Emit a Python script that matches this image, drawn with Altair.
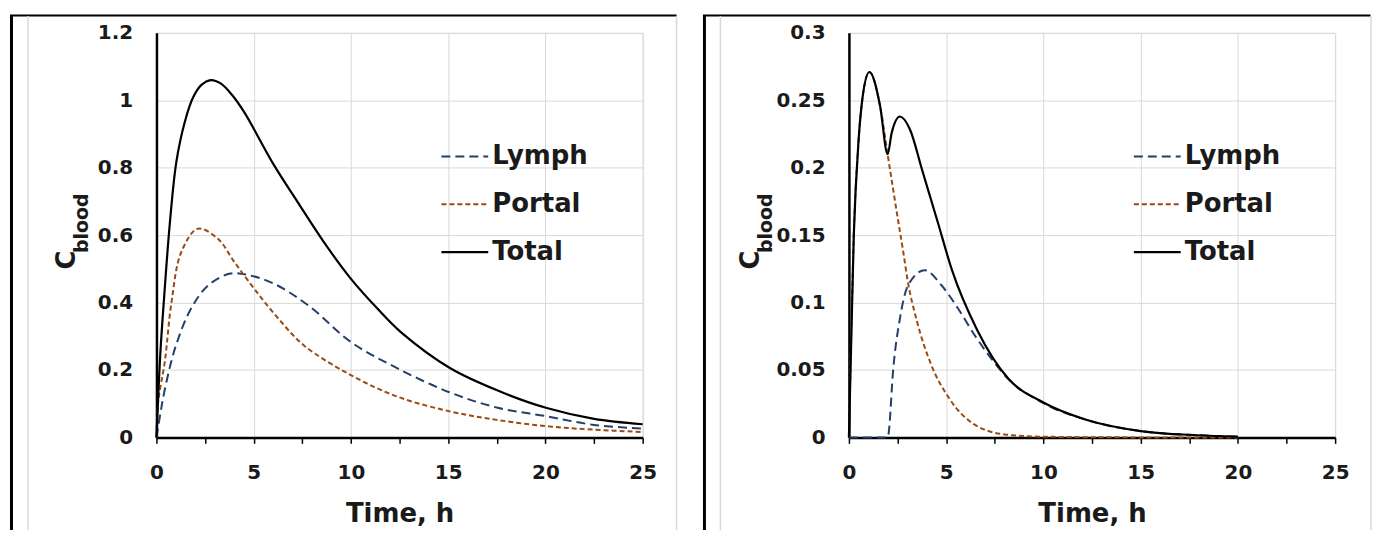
import altair as alt
import pandas as pd

FONT = "DejaVu Sans"
TEXT_COLOR = "#1a1a1a"
GRID = "#d9d9d9"

SERIES = ["Lymph", "Portal", "Total"]
COLORS = ["#233f6b", "#9a4a12", "#000000"]
DASHES = [[9, 5], [5, 3], None]
WIDTHS = [2, 2, 2.2]

X_TICKS = [0, 2.5, 5, 7.5, 10, 12.5, 15, 17.5, 20, 22.5, 25]
Y_TICKS_A = [0, 0.2, 0.4, 0.6, 0.8, 1.0, 1.2]
Y_TICKS_B = [0, 0.05, 0.1, 0.15, 0.2, 0.25, 0.3]

# ---- Panel A (left) ----
a_lymph_t = [0, 0.2, 0.4, 0.97, 1.76, 2.66, 3.8, 4.69, 6.04, 7.84, 10.0, 12.35, 15.06, 17.54, 20.02, 22.5, 25]
a_lymph_v = [0, 0.07, 0.134, 0.267, 0.38, 0.451, 0.486, 0.482, 0.456, 0.39, 0.283, 0.206, 0.134, 0.088, 0.063, 0.037, 0.026]
a_portal_t = [0, 0.09, 0.43, 0.77, 1.28, 2.13, 3.16, 4.01, 5.04, 6.23, 7.6, 9.99, 12.38, 15.1, 17.5, 20.07, 22.45, 25]
a_portal_v = [0, 0.106, 0.225, 0.40, 0.55, 0.619, 0.589, 0.52, 0.44, 0.355, 0.272, 0.185, 0.121, 0.077, 0.052, 0.033, 0.023, 0.016]
a_total_t = [0, 0.2, 0.4, 0.68, 1.02, 1.45, 1.88, 2.3, 2.8, 3.3, 3.9, 4.52, 6.06, 7.26, 8.6, 9.99, 11.36, 12.55, 15.11, 17.67, 20.07, 22.5, 25]
a_total_v = [0, 0.25, 0.42, 0.63, 0.816, 0.934, 1.008, 1.045, 1.06, 1.05, 1.015, 0.964, 0.806, 0.698, 0.58, 0.471, 0.382, 0.313, 0.205, 0.136, 0.087, 0.055, 0.039]

# ---- Panel B (right) ----
b_lymph_t = [0, 1.99, 2.03, 2.28, 2.62, 3.05, 3.9, 4.75, 5.61, 6.46, 7.31, 8.16, 10, 12.2, 15, 17.9, 20]
b_lymph_v = [0, 0, 0.002, 0.051, 0.088, 0.113, 0.124, 0.113, 0.0956, 0.0759, 0.0586, 0.0438, 0.0254, 0.013, 0.0047, 0.0016, 0.0005]
b_portal_t = [0, 0.25, 0.5, 0.7, 1.05, 1.6, 1.99, 2.55, 2.8, 3.0, 3.5, 4.2, 5.2, 6.4, 8.1, 10, 15, 20]
b_portal_v = [0, 0.15, 0.221, 0.252, 0.271, 0.246, 0.21, 0.159, 0.137, 0.118, 0.086, 0.055, 0.028, 0.010, 0.002, 0.0005, 0, 0]
b_total_t = [0, 0.25, 0.5, 0.7, 1.05, 1.6, 1.99, 2.2, 2.62, 3.15, 3.75, 4.58, 5.3, 6.6, 8.18, 10, 12.2, 15, 17.9, 20]
b_total_v = [0, 0.15, 0.221, 0.252, 0.271, 0.246, 0.21, 0.226, 0.238, 0.228, 0.199, 0.159, 0.124, 0.0795, 0.0438, 0.0259, 0.0131, 0.0047, 0.0016, 0.0005]

W, H = 488, 406
ONE = pd.DataFrame({"k": [0]})


def rule(x1, y1, x2, y2, color, width, dash=None):
    kw = dict(color=color, strokeWidth=width)
    if dash:
        kw["strokeDash"] = dash
    return alt.Chart(ONE).mark_rule(**kw).encode(
        x=alt.value(x1), x2=alt.value(x2), y=alt.value(y1), y2=alt.value(y2)
    )


def label(txt, x, y, size, angle=0, align="left"):
    return alt.Chart(ONE).mark_text(
        text=txt, font=FONT, fontSize=size, fontWeight="bold", color=TEXT_COLOR,
        align=align, baseline="middle", angle=angle,
    ).encode(x=alt.value(x), y=alt.value(y))


def panel(series, ymax, yticks, left_panel, interp, title_shift):
    x_axis = alt.Axis(
        values=X_TICKS, format="~g",
        labelExpr="datum.value % 5 == 0 ? datum.label : ''",
        gridOpacity={"condition": {"test": "datum.value % 5 === 0", "value": 1}, "value": 0},
        gridColor=GRID, gridWidth=1,
        domainColor="black", domainWidth=2.5,
        tickColor="black", tickWidth=1.5, tickSize=6,
        labelFont=FONT, labelFontSize=20, labelFontWeight="bold", labelColor=TEXT_COLOR,
        labelPadding=19, labelFlush=False,
        title="Time, h", titleFont=FONT, titleFontSize=26, titleFontWeight="bold",
        titleColor=TEXT_COLOR, titlePadding=18, zindex=0,
    )
    y_axis = alt.Axis(
        values=yticks, format="~g", ticks=False,
        gridColor=GRID, gridWidth=1,
        domainColor="black", domainWidth=2.5,
        labelFont=FONT, labelFontSize=20, labelFontWeight="bold", labelColor=TEXT_COLOR,
        labelPadding=24, title=None, zindex=0,
    )
    x = alt.X("t:Q", scale=alt.Scale(domain=[0, 25], nice=False), axis=x_axis)
    y = alt.Y("v:Q", scale=alt.Scale(domain=[0, ymax], nice=False), axis=y_axis)

    layers = []
    for (t, v), color, dash, w in zip(series, COLORS, DASHES, WIDTHS):
        kw = dict(interpolate=interp, color=color, strokeWidth=w)
        if dash:
            kw["strokeDash"] = dash
        layers.append(alt.Chart(pd.DataFrame({"t": t, "v": v})).mark_line(**kw).encode(x=x, y=y))

    # legend (inside plot)
    rows = [124, 172, 220]
    for name, color, dash, w, ry in zip(SERIES, COLORS, DASHES, WIDTHS, rows):
        layers.append(rule(286, ry, 333, ry, color, w, dash))
        layers.append(label(name, 337, ry, 26))

    # y title: C with subscript "blood"
    layers.append(label("C", -90 + title_shift, 228, 26, angle=270, align="center"))
    layers.append(label("blood", -75 + title_shift, 191, 19, angle=270, align="center"))

    # frame lines
    if left_panel:
        layers.append(rule(-145.5, -18, -145.5, 499, "black", 3))
        layers.append(rule(-147, -17.5, 522, -17.5, "black", 2))
        layers.append(rule(-129, -17, -129, 499, GRID, 1.5))
        layers.append(rule(522, -17, 522, 499, GRID, 1.5))
    else:
        layers.append(rule(-145, -18, -145, 499, "black", 3))
        layers.append(rule(-146.5, -17.5, 523.5, -17.5, "black", 2))
        layers.append(rule(-129, -17, -129, 499, GRID, 1.5))
        layers.append(rule(524, -17, 524, 499, GRID, 1.5))

    return alt.layer(*layers).properties(width=W, height=H)


left = panel([(a_lymph_t, a_lymph_v), (a_portal_t, a_portal_v), (a_total_t, a_total_v)],
             1.2, Y_TICKS_A, True, "catmull-rom", 0)
right = panel([(b_lymph_t, b_lymph_v), (b_portal_t, b_portal_v), (b_total_t, b_total_v)],
              0.3, Y_TICKS_B, False, "monotone", -8)

chart = alt.hconcat(left, right, spacing=23).properties(
    padding={"left": 0, "top": 4, "right": 0, "bottom": 0}
).configure_view(stroke=None).configure(background="white")

chart.save("out.html", embed_options={"renderer": "svg", "actions": False})
